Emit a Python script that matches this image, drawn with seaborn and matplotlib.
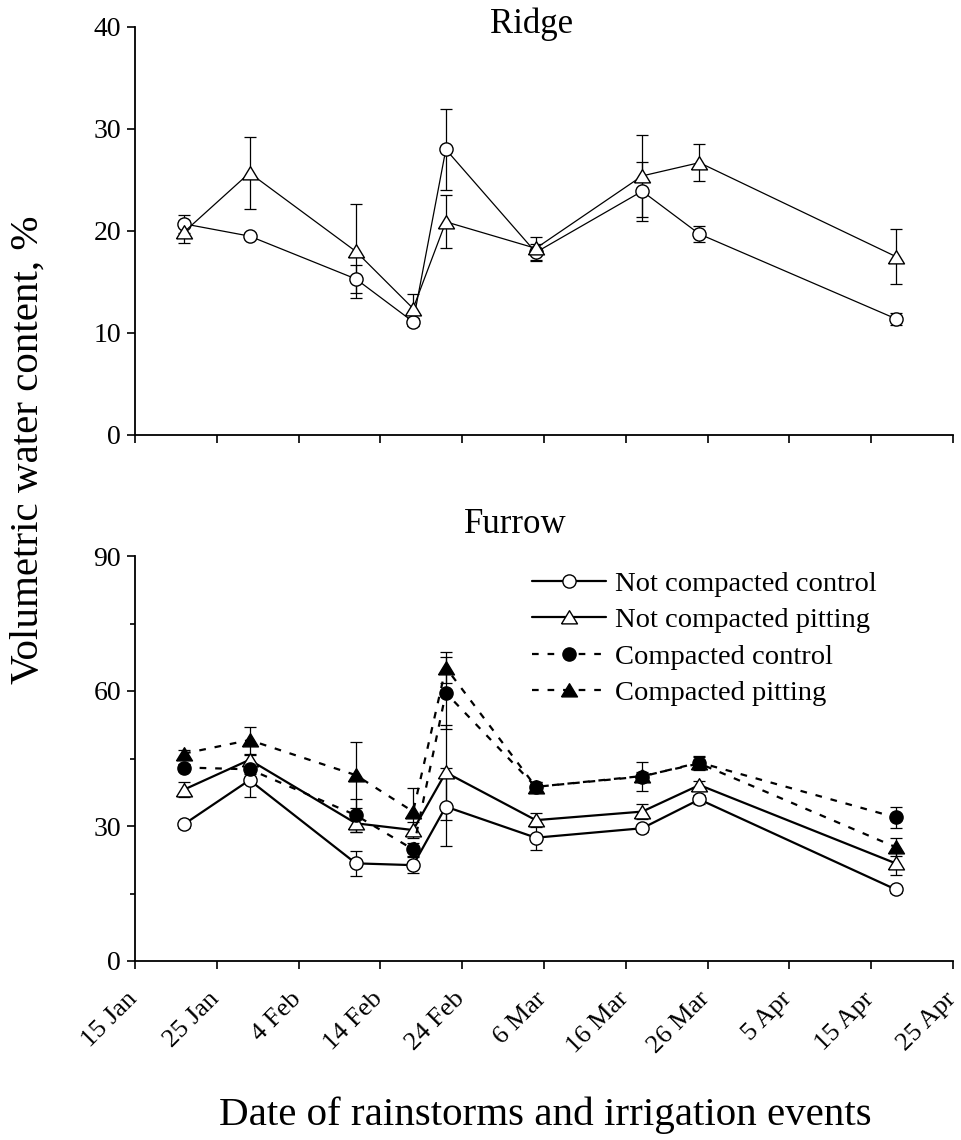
import pandas as pd
import numpy as np
import matplotlib
matplotlib.use('Agg')
import matplotlib.pyplot as plt
import matplotlib.transforms as mtransforms
from matplotlib.ticker import MultipleLocator
import seaborn as sns

# ── data: sampling dates (rainstorm / irrigation events) ──
dates = ['2003-01-21', '2003-01-29', '2003-02-11', '2003-02-18', '2003-02-22',
         '2003-03-05', '2003-03-18', '2003-03-25', '2003-04-18']

# Ridge (mean, standard error)
ridge_nc_control = [20.7, 19.5, 15.3, 11.1, 28.0, 17.9, 23.9, 19.7, 11.4]
ridge_nc_control_se = [0.9, 0.3, 1.4, 0.4, 4.0, 0.8, 2.9, 0.8, 0.6]
ridge_nc_pitting = [19.9, 25.7, 18.0, 12.4, 20.9, 18.3, 25.4, 26.7, 17.5]
ridge_nc_pitting_se = [1.1, 3.5, 4.6, 1.4, 2.6, 1.1, 4.0, 1.8, 2.7]

# Furrow (mean, standard error)
furrow_nc_control = [30.4, 40.2, 21.7, 21.3, 34.3, 27.4, 29.5, 35.9, 15.9]
furrow_nc_control_se = [0.8, 3.7, 2.8, 1.8, 8.7, 2.7, 0.8, 1.0, 0.8]
furrow_nc_pitting = [38.1, 44.7, 30.6, 29.1, 41.9, 31.3, 33.2, 39.1, 21.7]
furrow_nc_pitting_se = [1.6, 1.0, 1.9, 1.7, 10.5, 1.5, 1.6, 1.0, 2.6]
furrow_c_control = [43.0, 42.6, 32.4, 24.8, 59.6, 38.7, 41.0, 44.1, 31.9]
furrow_c_control_se = [0.8, 1.0, 3.7, 1.5, 8.0, 1.0, 3.3, 1.5, 2.4]
furrow_c_pitting = [46.1, 49.1, 41.3, 33.2, 65.2, 38.7, 41.1, 43.9, 25.3]
furrow_c_pitting_se = [0.8, 3.0, 7.4, 5.3, 3.5, 1.0, 1.0, 1.5, 2.0]

series_names = ['Not compacted control', 'Not compacted pitting',
                'Compacted control', 'Compacted pitting']

tick_dates = ['2003-01-15', '2003-01-25', '2003-02-04', '2003-02-14', '2003-02-24',
              '2003-03-06', '2003-03-16', '2003-03-26', '2003-04-05', '2003-04-15',
              '2003-04-25']
tick_labels = ['15 Jan', '25 Jan', '4 Feb', '14 Feb', '24 Feb', '6 Mar',
               '16 Mar', '26 Mar', '5 Apr', '15 Apr', '25 Apr']

# ── style ──
sns.set_style('ticks')
plt.rcParams['font.family'] = ['Liberation Serif', 'DejaVu Serif']
plt.rcParams.update({
    'axes.linewidth': 1.3,
    'axes.edgecolor': 'black',
    'text.color': 'black',
    'axes.labelcolor': 'black',
    'xtick.color': 'black',
    'ytick.color': 'black',
})

x = pd.to_datetime(dates)
xt = pd.to_datetime(tick_dates)

tri = [(-1, -0.8), (1, -0.8), (0, 0.85), (-1, -0.8)]
dash = (0, (3, 4))
styles = {
    'Not compacted control': dict(marker='o', markersize=9.5, markerfacecolor='white', linestyle='-'),
    'Not compacted pitting': dict(marker=tri, markersize=11.5, markerfacecolor='white', linestyle='-'),
    'Compacted control': dict(marker='o', markersize=9.5, markerfacecolor='black', linestyle=dash),
    'Compacted pitting': dict(marker=tri, markersize=11.5, markerfacecolor='black', linestyle=dash),
}

fig = plt.figure(figsize=(9.61, 11.40), dpi=100)
ax1 = fig.add_axes([135 / 961, 1 - 435 / 1140, 818 / 961, 408 / 1140])
ax2 = fig.add_axes([135 / 961, 1 - 961 / 1140, 818 / 961, 405 / 1140])


def draw(ax, series, lw):
    for name, vals, se in series:
        ax.errorbar(x, vals, yerr=se, fmt='none', ecolor='black',
                    elinewidth=0.9, capsize=4, capthick=0.9, zorder=2)
        sns.lineplot(x=x, y=vals, ax=ax, color='black', linewidth=lw,
                     markeredgecolor='black', markeredgewidth=1.0,
                     label=name, legend=False, zorder=3, **styles[name])


draw(ax1, [('Not compacted control', ridge_nc_control, ridge_nc_control_se),
           ('Not compacted pitting', ridge_nc_pitting, ridge_nc_pitting_se)], 0.9)
draw(ax2, [('Not compacted control', furrow_nc_control, furrow_nc_control_se),
           ('Not compacted pitting', furrow_nc_pitting, furrow_nc_pitting_se),
           ('Compacted control', furrow_c_control, furrow_c_control_se),
           ('Compacted pitting', furrow_c_pitting, furrow_c_pitting_se)], 1.6)

for ax in (ax1, ax2):
    sns.despine(ax=ax)
    ax.set_xlim(xt[0], xt[-1])
    ax.set_xticks(xt)
    ax.set_xlabel('')
    ax.set_ylabel('')
    ax.tick_params(axis='both', which='major', direction='out', length=6,
                   width=1.2, labelsize=20, pad=4)
    ax.tick_params(axis='both', which='minor', direction='out', length=3.5,
                   width=1.2)

ax1.set_ylim(0, 40)
ax1.yaxis.set_major_locator(MultipleLocator(10))
ax1.set_xticklabels([])

ax2.set_ylim(0, 90)
ax2.yaxis.set_major_locator(MultipleLocator(30))
ax2.yaxis.set_minor_locator(MultipleLocator(15))
ax2.set_xticklabels(tick_labels, rotation=45, ha='right', va='center',
                    rotation_mode='anchor', fontsize=19)
ax2.tick_params(axis='x', which='major', pad=19)
shift = mtransforms.ScaledTranslation(-1 / 100, 0, fig.dpi_scale_trans)
for lab in ax2.get_xticklabels():
    lab.set_transform(lab.get_transform() + shift)

ax1.text(0.485, 0.985, 'Ridge', transform=ax1.transAxes, ha='center',
         va='baseline', fontsize=25)
ax2.text(0.465, 1.057, 'Furrow', transform=ax2.transAxes, ha='center',
         va='baseline', fontsize=25)

handles, labels = ax2.get_legend_handles_labels()
ax2.legend(handles, labels, loc='upper left', bbox_to_anchor=(532 / 961, 1 - 571 / 1140),
           bbox_transform=fig.transFigure, frameon=False, fontsize=20.5,
           handlelength=2.6, handletextpad=0.3, labelspacing=0.37,
           borderpad=0, borderaxespad=0)

fig.text(28 / 961, 1 - 450 / 1140, 'Volumetric water content, %', rotation=90,
         ha='center', va='center', fontsize=29.5)
fig.text(545 / 961, 1 - 1125 / 1140, 'Date of rainstorms and irrigation events',
         ha='center', va='baseline', fontsize=29.5)

fig.savefig('out.png', dpi=100)
